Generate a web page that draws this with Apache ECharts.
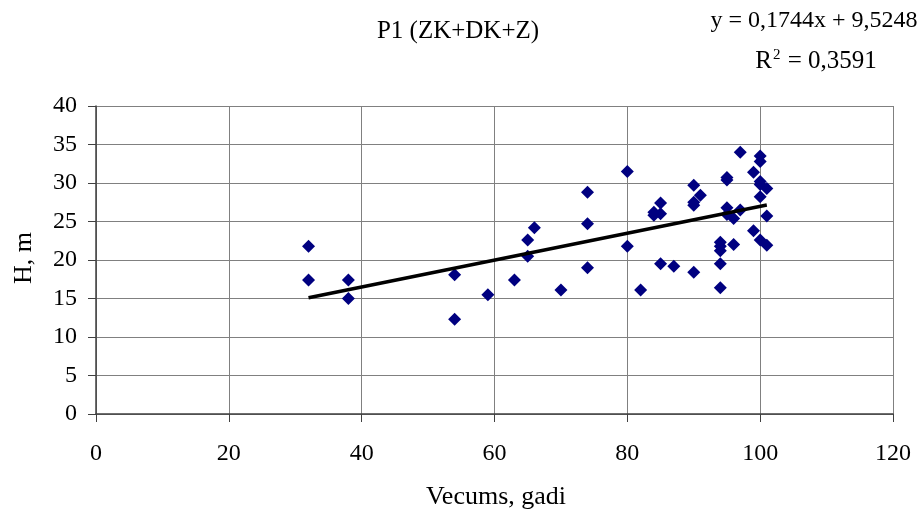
<!DOCTYPE html>
<html>
<head>
<meta charset="utf-8">
<script src="https://cdn.jsdelivr.net/npm/echarts@6/dist/echarts.min.js"></script>
<style>html,body{margin:0;padding:0;background:#fff;}#c{width:922px;height:515px;}</style>
</head>
<body>
<div id="c"></div>
<script>
// Data
const ages = [32,32,38,38,54,54,59,63,65,65,66,70,74,74,74,80,80,82,84,84,85,85,85,87,90,90,90,91,90,94,94,94,94,94,95,95,95,95,96,96,97,97,99,99,100,100,100,100,100,100,101,101,101];
const heights = [21.8,17.4,17.4,15.0,18.1,12.3,15.5,17.4,20.5,22.6,24.2,16.1,28.8,24.7,19.0,31.5,21.8,16.1,26.2,25.8,27.4,26.0,19.5,19.2,29.7,27.5,27.1,28.4,18.4,22.3,21.8,21.2,19.5,16.4,30.7,30.4,26.8,25.9,25.4,22.0,34.0,26.5,31.4,23.8,33.5,32.8,30.2,29.8,28.2,22.6,29.3,25.7,21.9];
const xTicks = [0,20,40,60,80,100,120];
const yTicks = [0,5,10,15,20,25,30,35,40];
const trendSlope = 0.1744;
const trendIntercept = 9.5248;
const rSquared = 0.3591;
const chartTitle = 'P1 (ZK+DK+Z)';
const xName = 'Vecums, gadi';
const yName = 'H, m';

const points = ages.map((a, i) => [a, heights[i]]);
const xMin = Math.min.apply(null, ages), xMax = Math.max.apply(null, ages);
const trend = [[xMin, trendSlope * xMin + trendIntercept], [xMax, trendSlope * xMax + trendIntercept]];
const fmt = (v) => String(v).replace('.', ',');

const FONT = '"Liberation Serif", "Times New Roman", serif';
const chart = echarts.init(document.getElementById('c'), null, {renderer: 'canvas'});
chart.setOption({
  animation: false,
  backgroundColor: '#ffffff',
  grid: {left: 96, right: 29, top: 106, bottom: 101, containLabel: false},
  xAxis: {
    type: 'value', min: xTicks[0], max: xTicks[xTicks.length - 1], interval: 20,
    axisLine: {show: true, onZero: false, lineStyle: {color: '#404040', width: 1.5}},
    axisTick: {show: true, length: 8, lineStyle: {color: '#404040'}},
    axisLabel: {color: '#000', fontFamily: FONT, fontSize: 24, margin: 28},
    splitLine: {show: true, lineStyle: {color: '#808080', width: 1}}
  },
  yAxis: {
    type: 'value', min: yTicks[0], max: yTicks[yTicks.length - 1], interval: 5,
    axisLine: {show: true, onZero: false, lineStyle: {color: '#404040', width: 1.5}},
    axisTick: {show: true, length: 8, lineStyle: {color: '#404040'}},
    axisLabel: {color: '#000', fontFamily: FONT, fontSize: 24, margin: 19},
    splitLine: {show: true, lineStyle: {color: '#808080', width: 1}}
  },
  series: [
    {
      type: 'scatter', data: points, symbol: 'diamond', symbolSize: 13,
      itemStyle: {color: '#000080', opacity: 1}, z: 2
    },
    {
      type: 'line', data: trend, showSymbol: false, symbol: 'none',
      lineStyle: {color: '#000', width: 3.5}, z: 3, silent: true
    }
  ],
  graphic: [
    {type: 'text', x: 458, y: 31, style: {text: chartTitle, font: '25px ' + FONT, fill: '#000', textAlign: 'center', textVerticalAlign: 'middle'}},
    {type: 'text', x: 814, y: 21, style: {text: 'y = ' + fmt(trendSlope) + 'x + ' + fmt(trendIntercept), font: '24px ' + FONT, fill: '#000', textAlign: 'center', textVerticalAlign: 'middle'}},
    {type: 'text', x: 816, y: 61, style: {
      text: '{a|R}{s|2}{a| = ' + fmt(rSquared) + '}',
      textAlign: 'center', textVerticalAlign: 'middle',
      rich: {
        a: {fontFamily: FONT, fontSize: 25, fill: '#000', color: '#000', lineHeight: 26},
        s: {fontFamily: FONT, fontSize: 15, fill: '#000', color: '#000', verticalAlign: 'top', lineHeight: 26, padding: [0, 1, 16, 1]}
      }
    }},
    {type: 'text', x: 496, y: 497, style: {text: xName, font: '26px ' + FONT, fill: '#000', textAlign: 'center', textVerticalAlign: 'middle'}},
    {type: 'text', x: 24, y: 258, rotation: Math.PI / 2, style: {text: yName, font: '26px ' + FONT, fill: '#000', textAlign: 'center', textVerticalAlign: 'middle'}}
  ]
});
</script>
</body>
</html>
